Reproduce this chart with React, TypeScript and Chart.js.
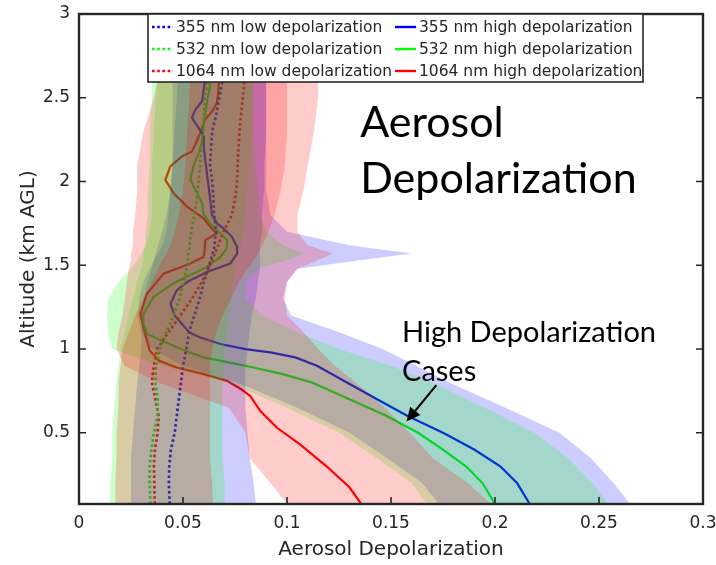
import { useEffect, useRef } from 'react';
import { Chart, registerables } from 'chart.js';

Chart.register(...registerables);

// ---------- axes ----------
const X_MIN = 0;
const X_MAX = 0.3;
const Y_MIN = 0.075;
const Y_MAX = 3;
const X_TICKS = [0, 0.05, 0.1, 0.15, 0.2, 0.25, 0.3];
const Y_TICKS = [0.5, 1, 1.5, 2, 2.5, 3];
const X_TITLE = 'Aerosol Depolarization';
const Y_TITLE = 'Altitude (km AGL)';

// ---------- mean profiles (x = depolarization, y = altitude km) ----------
const ALT_LOW = [0.075, 0.2, 0.3, 0.4, 0.5, 0.6, 0.7, 0.8, 0.9, 1.0, 1.1, 1.2, 1.3, 1.4, 1.5, 1.6, 1.7, 1.8, 1.9, 2.0, 2.1, 2.2, 2.3, 2.4, 2.5, 2.6, 2.75];
const V355_LOW = [0.0436, 0.0432, 0.0434, 0.0442, 0.046, 0.047, 0.048, 0.049, 0.05, 0.0516, 0.053, 0.0554, 0.058, 0.06, 0.0626, 0.065, 0.0659, 0.065, 0.0646, 0.064, 0.063, 0.0635, 0.064, 0.066, 0.0675, 0.069, 0.07];
const V532_LOW = [0.0343, 0.034, 0.034, 0.0348, 0.036, 0.0378, 0.0378, 0.0367, 0.037, 0.039, 0.042, 0.0454, 0.0484, 0.0503, 0.052, 0.053, 0.054, 0.0554, 0.0567, 0.0575, 0.0583, 0.0588, 0.0596, 0.06, 0.0607, 0.062, 0.063];
const V1064_LOW = [0.0364, 0.0362, 0.036, 0.0365, 0.0378, 0.0383, 0.0367, 0.035, 0.036, 0.0375, 0.043, 0.0487, 0.0543, 0.059, 0.063, 0.0663, 0.0695, 0.0735, 0.0751, 0.076, 0.0763, 0.0767, 0.0772, 0.0779, 0.0788, 0.0795, 0.08];

const ALT_355_HIGH = [0.075, 0.2, 0.3, 0.4, 0.5, 0.6, 0.7, 0.8, 0.9, 0.95, 0.98, 1.0, 1.03, 1.07, 1.1, 1.15, 1.2, 1.27, 1.35, 1.4, 1.46, 1.51, 1.57, 1.61, 1.67, 1.72, 1.75, 1.8, 1.9, 2.0, 2.1, 2.2, 2.27, 2.32, 2.38, 2.43, 2.48, 2.55, 2.65, 2.75];
const V355_HIGH = [0.2167, 0.2106, 0.2025, 0.19, 0.175, 0.158, 0.1433, 0.1288, 0.1144, 0.104, 0.092, 0.08, 0.068, 0.058, 0.053, 0.0495, 0.046, 0.044, 0.047, 0.052, 0.0615, 0.0727, 0.076, 0.076, 0.0735, 0.0695, 0.0663, 0.064, 0.063, 0.062, 0.061, 0.06, 0.06, 0.0575, 0.0543, 0.056, 0.0592, 0.06, 0.061, 0.062];

const ALT_532_HIGH = [0.075, 0.2, 0.3, 0.4, 0.5, 0.6, 0.7, 0.8, 0.85, 0.9, 0.95, 1.0, 1.05, 1.09, 1.15, 1.21, 1.31, 1.39, 1.49, 1.55, 1.6, 1.65, 1.69, 1.75, 1.81, 1.87, 1.95, 2.01, 2.09, 2.17, 2.23, 2.33, 2.41, 2.47, 2.57, 2.75];
const V532_HIGH = [0.2, 0.194, 0.186, 0.175, 0.163, 0.148, 0.13, 0.112, 0.098, 0.08, 0.06, 0.049, 0.04, 0.0327, 0.031, 0.031, 0.0358, 0.045, 0.0615, 0.068, 0.071, 0.0712, 0.068, 0.063, 0.0597, 0.0592, 0.056, 0.0535, 0.055, 0.0575, 0.059, 0.0599, 0.0607, 0.0615, 0.063, 0.064];

const ALT_1064_HIGH = [0.075, 0.175, 0.3, 0.43, 0.53, 0.63, 0.72, 0.76, 0.81, 0.85, 0.89, 0.93, 0.99, 1.05, 1.13, 1.21, 1.33, 1.45, 1.51, 1.55, 1.6, 1.65, 1.69, 1.73, 1.78, 1.85, 1.93, 2.01, 2.09, 2.15, 2.18, 2.22, 2.29, 2.37, 2.43, 2.47, 2.55, 2.75];
const V1064_HIGH = [0.1357, 0.13, 0.119, 0.1064, 0.0952, 0.0872, 0.0823, 0.078, 0.0712, 0.06, 0.047, 0.0385, 0.034, 0.0327, 0.031, 0.0295, 0.0327, 0.0407, 0.0535, 0.0599, 0.0605, 0.0607, 0.0663, 0.0631, 0.0599, 0.052, 0.0455, 0.0415, 0.0439, 0.0495, 0.0543, 0.0559, 0.0583, 0.0607, 0.0647, 0.0663, 0.0671, 0.0675];

// ---------- variability bands (lower / upper edge per altitude) ----------
const BAND_ALT = [0.075, 0.2, 0.35, 0.5, 0.65, 0.8, 0.9, 1.0, 1.1, 1.2, 1.3, 1.4, 1.48, 1.53, 1.57, 1.62, 1.7, 1.8, 1.95, 2.1, 2.3, 2.5, 2.75];
const B355_LOW_LO = [0.025, 0.025, 0.025, 0.026, 0.027, 0.028, 0.029, 0.03, 0.03, 0.03, 0.031, 0.033, 0.035, 0.036, 0.037, 0.038, 0.04, 0.042, 0.044, 0.045, 0.046, 0.047, 0.048];
const B355_LOW_HI = [0.085, 0.084, 0.082, 0.081, 0.08, 0.08, 0.08, 0.081, 0.082, 0.083, 0.085, 0.086, 0.087, 0.087, 0.087, 0.087, 0.088, 0.088, 0.089, 0.089, 0.09, 0.09, 0.09];
const B532_LOW_LO = [0.015, 0.015, 0.016, 0.016, 0.017, 0.018, 0.019, 0.02, 0.022, 0.024, 0.026, 0.028, 0.03, 0.031, 0.031, 0.032, 0.032, 0.033, 0.033, 0.034, 0.034, 0.035, 0.035];
const B532_LOW_HI = [0.07, 0.07, 0.069, 0.069, 0.069, 0.069, 0.07, 0.07, 0.071, 0.072, 0.073, 0.074, 0.075, 0.076, 0.077, 0.078, 0.079, 0.08, 0.081, 0.082, 0.083, 0.083, 0.084];
const B1064_LOW_LO = [0.0175, 0.0175, 0.018, 0.018, 0.019, 0.019, 0.02, 0.021, 0.024, 0.027, 0.031, 0.035, 0.038, 0.04, 0.042, 0.044, 0.046, 0.048, 0.05, 0.051, 0.052, 0.053, 0.054];
const B1064_LOW_HI = [0.0646, 0.064, 0.063, 0.063, 0.063, 0.063, 0.063, 0.064, 0.066, 0.069, 0.073, 0.077, 0.081, 0.084, 0.086, 0.088, 0.091, 0.094, 0.097, 0.099, 0.1, 0.1, 0.1];
const B355_HIGH_LO = [0.173, 0.165, 0.148, 0.13, 0.105, 0.076, 0.05, 0.035, 0.03, 0.028, 0.029, 0.031, 0.034, 0.036, 0.038, 0.04, 0.042, 0.043, 0.044, 0.045, 0.045, 0.045, 0.045];
const B355_HIGH_HI = [0.265, 0.257, 0.246, 0.231, 0.205, 0.178, 0.162, 0.146, 0.125, 0.102, 0.098, 0.1, 0.105, 0.135, 0.16, 0.13, 0.1, 0.092, 0.09, 0.09, 0.09, 0.09, 0.09];
const B532_HIGH_LO = [0.167, 0.16, 0.143, 0.125, 0.1, 0.072, 0.04, 0.016, 0.014, 0.0135, 0.014, 0.019, 0.025, 0.028, 0.03, 0.032, 0.034, 0.035, 0.035, 0.035, 0.036, 0.037, 0.038];
const B532_HIGH_HI = [0.2545, 0.247, 0.235, 0.219, 0.195, 0.17, 0.15, 0.125, 0.105, 0.088, 0.08, 0.08, 0.086, 0.1, 0.108, 0.098, 0.09, 0.087, 0.086, 0.085, 0.084, 0.084, 0.084];
const B1064_HIGH_LO = [0.1, 0.092, 0.082, 0.08, 0.072, 0.038, 0.022, 0.018, 0.019, 0.021, 0.022, 0.023, 0.024, 0.025, 0.025, 0.026, 0.026, 0.027, 0.028, 0.028, 0.031, 0.036, 0.04];
const B1064_HIGH_HI = [0.198, 0.187, 0.17, 0.159, 0.147, 0.133, 0.123, 0.115, 0.108, 0.1, 0.099, 0.1, 0.105, 0.115, 0.122, 0.11, 0.105, 0.105, 0.108, 0.11, 0.113, 0.115, 0.115];

// ---------- labels ----------
const LABELS_LOW = ['355 nm low depolarization', '532 nm low depolarization', '1064 nm low depolarization'];
const LABELS_HIGH = ['355 nm high depolarization', '532 nm high depolarization', '1064 nm high depolarization'];
const TITLE_LINES = ['Aerosol', 'Depolarization'];
const NOTE_LINES = ['High Depolarization', 'Cases'];

// annotation anchors in data coordinates
const TITLE_X = 0.1352;
const TITLE_Y = [2.265, 1.93];
const NOTE_X = 0.1553;
const NOTE_Y = [1.041, 0.812];
const ARROW_FROM = { x: 0.1718, y: 0.785 };
const ARROW_TO = { x: 0.1574, y: 0.567 };

// ---------- styles ----------
const BLUE = '#0000ff';
const GREEN = '#00ff00';
const RED = '#ff0000';
const BLUE_FILL = 'rgba(0,0,255,0.2)';
const GREEN_FILL = 'rgba(0,255,0,0.2)';
const RED_FILL = 'rgba(255,0,0,0.2)';
const AXIS_COLOR = '#262626';
const FONT = '"DejaVu Sans", sans-serif';
const NOTE_FONT = 'Lato, "Open Sans", sans-serif';

const toPoints = (alt: number[], val: number[]) => alt.map((a, i) => ({ x: val[i], y: a }));
const toPolygon = (alt: number[], lo: number[], hi: number[]) => [
  ...alt.map((a, i) => ({ x: lo[i], y: a })),
  ...alt.map((a, i) => ({ x: hi[i], y: a })).reverse(),
];

const lineSet = (label: string, pts: any[], color: string, dotted: boolean) => ({
  type: 'line' as const,
  label,
  data: pts,
  borderColor: color,
  backgroundColor: color,
  borderWidth: dotted ? 2.7 : 2.2,
  borderDash: dotted ? [2.6, 2.6] : [],
  pointRadius: 0,
  fill: false,
  tension: 0,
  order: 20,
});

const bandSet = (pts: any[], color: string, order: number) => ({
  type: 'line' as const,
  label: '',
  data: pts,
  borderWidth: 0,
  borderColor: 'rgba(0,0,0,0)',
  backgroundColor: color,
  pointRadius: 0,
  fill: 'shape',
  tension: 0,
  order,
});

const fmt = (v: number) => String(Math.round(v * 100) / 100);

const framePlugin = {
  id: 'matlabFrame',
  afterDatasetsDraw(chart: any) {
    const { ctx, chartArea: a, scales } = chart;
    const x = scales.x;
    const y = scales.y;
    const T = 7;
    ctx.save();
    ctx.strokeStyle = AXIS_COLOR;
    ctx.lineWidth = 1.6;
    ctx.beginPath();
    for (const v of X_TICKS) {
      const px = x.getPixelForValue(v);
      ctx.moveTo(px, a.bottom);
      ctx.lineTo(px, a.bottom - T);
      ctx.moveTo(px, a.top);
      ctx.lineTo(px, a.top + T);
    }
    for (const v of Y_TICKS) {
      const py = y.getPixelForValue(v);
      ctx.moveTo(a.left, py);
      ctx.lineTo(a.left + T, py);
      ctx.moveTo(a.right, py);
      ctx.lineTo(a.right - T, py);
    }
    ctx.stroke();
    ctx.lineWidth = 2.4;
    ctx.strokeRect(a.left, a.top, a.right - a.left, a.bottom - a.top);
    ctx.restore();
  },
};

const legendPlugin = {
  id: 'boxLegend',
  afterDraw(chart: any) {
    const { ctx } = chart;
    const left = 148;
    const top = 14;
    const w = 495;
    const h = 68;
    ctx.save();
    ctx.fillStyle = '#ffffff';
    ctx.fillRect(left, top, w, h);
    ctx.strokeStyle = AXIS_COLOR;
    ctx.lineWidth = 1.6;
    ctx.strokeRect(left, top, w, h);
    ctx.font = `15.5px ${FONT}`;
    ctx.textBaseline = 'middle';
    ctx.textAlign = 'left';
    const colors = [BLUE, GREEN, RED];
    const colX = [152, 395];
    const rowY = [27, 49, 71];
    for (let r = 0; r < 3; r++) {
      for (let c = 0; c < 2; c++) {
        const yy = rowY[r];
        const x0 = colX[c];
        ctx.strokeStyle = colors[r];
        ctx.lineWidth = c === 0 ? 2.7 : 2.4;
        ctx.setLineDash(c === 0 ? [2.6, 2.6] : []);
        ctx.beginPath();
        ctx.moveTo(x0, yy);
        ctx.lineTo(x0 + 21, yy);
        ctx.stroke();
        ctx.setLineDash([]);
        ctx.fillStyle = AXIS_COLOR;
        ctx.fillText(c === 0 ? LABELS_LOW[r] : LABELS_HIGH[r], x0 + 24, yy + 0.5);
      }
    }
    ctx.restore();
  },
};

const notePlugin = {
  id: 'notes',
  afterDraw(chart: any) {
    const { ctx, scales } = chart;
    const x = scales.x;
    const y = scales.y;
    ctx.save();
    ctx.fillStyle = '#000000';
    ctx.textAlign = 'left';
    ctx.textBaseline = 'alphabetic';
    ctx.font = `43px ${NOTE_FONT}`;
    TITLE_LINES.forEach((t, i) => ctx.fillText(t, x.getPixelForValue(TITLE_X), y.getPixelForValue(TITLE_Y[i])));
    ctx.font = `29px ${NOTE_FONT}`;
    NOTE_LINES.forEach((t, i) => ctx.fillText(t, x.getPixelForValue(NOTE_X), y.getPixelForValue(NOTE_Y[i])));
    // arrow
    const x1 = x.getPixelForValue(ARROW_FROM.x);
    const y1 = y.getPixelForValue(ARROW_FROM.y);
    const x2 = x.getPixelForValue(ARROW_TO.x);
    const y2 = y.getPixelForValue(ARROW_TO.y);
    const ang = Math.atan2(y2 - y1, x2 - x1);
    const head = 14;
    const half = 6.5;
    const bx = x2 - head * Math.cos(ang);
    const by = y2 - head * Math.sin(ang);
    ctx.strokeStyle = '#000000';
    ctx.lineWidth = 2;
    ctx.beginPath();
    ctx.moveTo(x1, y1);
    ctx.lineTo(bx, by);
    ctx.stroke();
    ctx.beginPath();
    ctx.moveTo(x2, y2);
    ctx.lineTo(bx + half * Math.sin(ang), by - half * Math.cos(ang));
    ctx.lineTo(bx - half * Math.sin(ang), by + half * Math.cos(ang));
    ctx.closePath();
    ctx.fill();
    ctx.restore();
  },
};

export default function App() {
  const ref = useRef<HTMLCanvasElement>(null);

  useEffect(() => {
    document.body.style.margin = '0';
    const canvas = ref.current;
    if (!canvas) return;

    const datasets: any[] = [
      lineSet(LABELS_LOW[0], toPoints(ALT_LOW, V355_LOW), BLUE, true),
      lineSet(LABELS_LOW[1], toPoints(ALT_LOW, V532_LOW), GREEN, true),
      lineSet(LABELS_LOW[2], toPoints(ALT_LOW, V1064_LOW), RED, true),
      lineSet(LABELS_HIGH[0], toPoints(ALT_355_HIGH, V355_HIGH), BLUE, false),
      lineSet(LABELS_HIGH[1], toPoints(ALT_532_HIGH, V532_HIGH), GREEN, false),
      lineSet(LABELS_HIGH[2], toPoints(ALT_1064_HIGH, V1064_HIGH), RED, false),
      bandSet(toPolygon(BAND_ALT, B355_LOW_LO, B355_LOW_HI), BLUE_FILL, 6),
      bandSet(toPolygon(BAND_ALT, B355_HIGH_LO, B355_HIGH_HI), BLUE_FILL, 5),
      bandSet(toPolygon(BAND_ALT, B532_LOW_LO, B532_LOW_HI), GREEN_FILL, 4),
      bandSet(toPolygon(BAND_ALT, B532_HIGH_LO, B532_HIGH_HI), GREEN_FILL, 3),
      bandSet(toPolygon(BAND_ALT, B1064_LOW_LO, B1064_LOW_HI), RED_FILL, 2),
      bandSet(toPolygon(BAND_ALT, B1064_HIGH_LO, B1064_HIGH_HI), RED_FILL, 1),
    ];

    const chart = new Chart(canvas, {
      type: 'line',
      data: { datasets },
      options: {
        animation: false,
        responsive: false,
        events: [],
        layout: { padding: { top: 14, right: 13, left: 0, bottom: 0 } },
        plugins: {
          legend: { display: false },
          tooltip: { enabled: false },
        },
        scales: {
          x: {
            type: 'linear',
            min: X_MIN,
            max: X_MAX,
            grid: { display: false, drawTicks: false },
            border: { display: false },
            afterBuildTicks: (s: any) => {
              s.ticks = X_TICKS.map((v) => ({ value: v }));
            },
            afterFit: (s: any) => {
              s.height = 61;
              s.paddingLeft = 0;
              s.paddingRight = 0;
            },
            ticks: {
              padding: 9,
              color: AXIS_COLOR,
              font: { family: FONT, size: 17 },
              autoSkip: false,
              maxRotation: 0,
              minRotation: 0,
              callback: (v: any) => fmt(Number(v)),
            },
            title: {
              display: true,
              text: X_TITLE,
              color: AXIS_COLOR,
              font: { family: FONT, size: 20 },
              padding: { top: 0, bottom: 3 },
            },
          },
          y: {
            type: 'linear',
            min: Y_MIN,
            max: Y_MAX,
            grid: { display: false, drawTicks: false },
            border: { display: false },
            afterBuildTicks: (s: any) => {
              s.ticks = Y_TICKS.map((v) => ({ value: v }));
            },
            afterFit: (s: any) => {
              s.width = 79;
              s.paddingTop = 0;
              s.paddingBottom = 0;
            },
            ticks: {
              padding: 9,
              color: AXIS_COLOR,
              font: { family: FONT, size: 17 },
              autoSkip: false,
              callback: (v: any) => fmt(Number(v)),
            },
            title: {
              display: true,
              text: Y_TITLE,
              color: AXIS_COLOR,
              font: { family: FONT, size: 20 },
              padding: { top: 17, bottom: 0 },
            },
          },
        },
      } as any,
      plugins: [framePlugin, legendPlugin, notePlugin],
    });

    return () => chart.destroy();
  }, []);

  return (
    <div style={{ width: 716, height: 565, background: '#ffffff' }}>
      <canvas ref={ref} width={716} height={565} style={{ display: 'block' }} />
    </div>
  );
}
